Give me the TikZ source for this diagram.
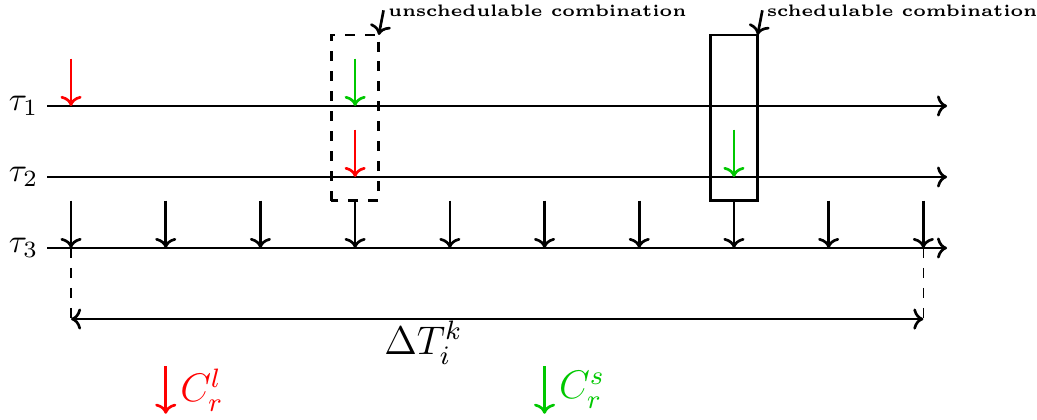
\documentclass[tikz,border=0pt]{standalone}
\usetikzlibrary{arrows.meta}
\definecolor{mygreen}{RGB}{0,200,0}
\begin{document}
\begin{tikzpicture}[
  >={To[scale=0.9]},
  tline/.style={thick,->},
  rel/.style={thick,->},
  lbl/.style={anchor=west,inner sep=1pt,font=\tiny\bfseries},
  dimline/.style={thin,dashed}
]
\useasboundingbox (-0.75,-1.806) rectangle (10.2,2.619);
% timelines
\coordinate (s1) at (-0.25,1.5); \coordinate (e1) at (9.25,1.5);
\coordinate (s2) at (-0.25,0.75); \coordinate (e2) at (9.25,0.75);
\coordinate (s3) at (-0.25,0); \coordinate (e3) at (9.25,0);
\draw[tline] (s1) -- (e1);
\draw[tline] (s2) -- (e2);
\draw[tline] (s3) -- (e3);
\node[left,inner sep=2.5pt] (t1) at (s1) {$\tau_1$};
\node[left,inner sep=2.5pt] (t2) at (s2) {$\tau_2$};
\node[left,inner sep=2.5pt] (t3) at (s3) {$\tau_3$};
% tau3 releases
\foreach \i in {0,...,9}{
  \coordinate (a\i) at (\i,0.5);
  \coordinate (b\i) at (\i,0);
  \draw[rel] (a\i) -- (b\i);
}
% tau1, tau2 releases
\coordinate (r1a) at (0,2); \coordinate (r1b) at (0,1.5);
\draw[rel,red] (r1a) -- (r1b);
\coordinate (g1a) at (3,2); \coordinate (g1b) at (3,1.5);
\draw[rel,mygreen] (g1a) -- (g1b);
\coordinate (r2a) at (3,1.25); \coordinate (r2b) at (3,0.75);
\draw[rel,red] (r2a) -- (r2b);
\coordinate (g2a) at (7,1.25); \coordinate (g2b) at (7,0.75);
\draw[rel,mygreen] (g2a) -- (g2b);
% boxes
\draw[thick,dashed] (2.75,0.5) rectangle (3.25,2.25);
\coordinate (ub) at (3.25,2.25);
\draw[thick] (6.75,0.5) rectangle (7.25,2.25);
\coordinate (sb) at (7.25,2.25);
\draw[thick,<-] (ub) -- ++(0.05,0.26) node[lbl] (ul) {unschedulable combination};
\draw[thick,<-] (sb) -- ++(0.05,0.26) node[lbl] (sl) {schedulable combination};
% Delta T
\coordinate (d0) at (0,-0.75); \coordinate (d9) at (9,-0.75);
\draw[dimline] (b0) -- (d0);
\draw[dimline] (b9) -- (d9);
\draw[thick,<->] (d0) -- (d9);
\node (dt) at (3.72,-1.0) {\large $\Delta T_i^k$};
% legend
\coordinate (la) at (1,-1.25); \coordinate (lb) at (1,-1.75);
\draw[rel,red] (la) -- (lb);
\node[red,anchor=west] (ll) at (1.03,-1.5) {\large $C_r^l$};
\coordinate (ma) at (5,-1.25); \coordinate (mb) at (5,-1.75);
\draw[rel,mygreen] (ma) -- (mb);
\node[mygreen,anchor=west] (ml) at (5.03,-1.5) {\large $C_r^s$};
\end{tikzpicture}
\end{document}
